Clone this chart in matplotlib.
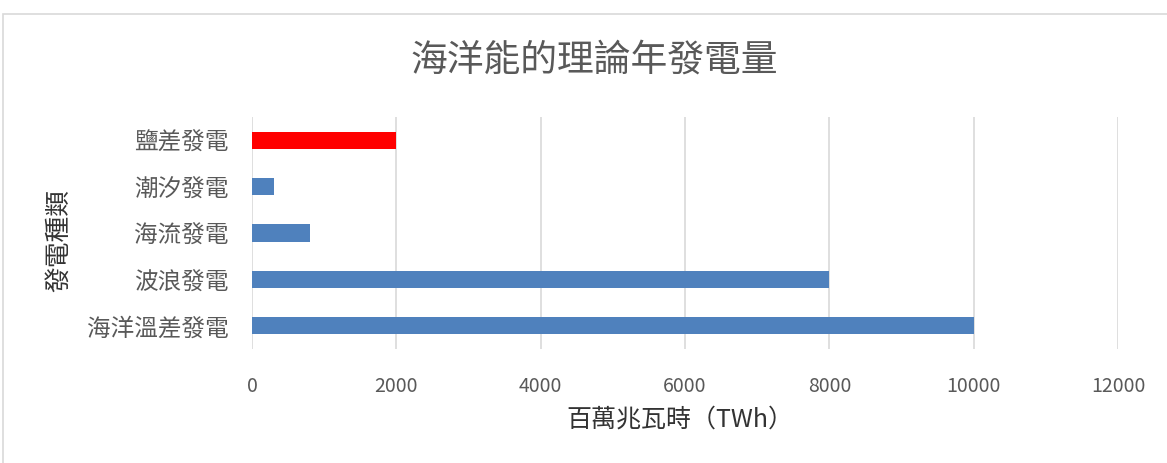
import matplotlib
matplotlib.use("Agg")
import matplotlib.pyplot as plt
from matplotlib.patches import Rectangle

# data (bottom to top)
categories = ["海洋溫差發電", "波浪發電", "海流發電", "潮汐發電", "鹽差發電"]
values = [10000, 8000, 800, 300, 2000]
colors = ["#4f81bd", "#4f81bd", "#4f81bd", "#4f81bd", "#ff0000"]
xticks = [0, 2000, 4000, 6000, 8000, 10000, 12000]

plt.rcParams['font.family'] = ['Noto Sans CJK TC', 'DejaVu Sans']
textcolor = "#595959"
labelcolor = "#333333"

fig = plt.figure(figsize=(11.67, 4.64), dpi=100)
W, H = 1167, 464

# chart area border (light grey, runs off right/bottom edges)
fig.patches.append(Rectangle((3 / W, -0.1), 1.2, 1 - 15 / H + 0.1, transform=fig.transFigure,
                             fill=False, edgecolor="#d9d9d9", linewidth=1.2))

ax = fig.add_axes([252 / W, 1 - 350 / H, (1118 - 252) / W, (350 - 118) / H])
ax.barh(range(len(categories)), values, height=0.37, color=colors, zorder=3)

ax.set_xlim(0, 12000)
ax.set_ylim(-0.5, len(categories) - 0.5)
ax.set_xticks(xticks)
ax.set_xticklabels([str(v) for v in xticks], fontsize=14, color=textcolor)
ax.set_yticks(range(len(categories)))
ax.set_yticklabels(categories, fontsize=17, color=textcolor, fontweight='light')
ax.tick_params(axis='both', length=0)
ax.tick_params(axis='x', pad=19)
ax.tick_params(axis='y', pad=17)
ax.grid(True, axis='x', color="#d9d9d9", linewidth=1.2, zorder=0)
for s in ax.spines.values():
    s.set_visible(False)

fig.text(594 / W, 1 - 60 / H, "海洋能的理論年發電量", fontsize=26.5, color=textcolor,
         ha='center', va='center', fontweight='light')
fig.text(680 / W, 1 - 420 / H, "百萬兆瓦時（TWh）", fontsize=18, color=labelcolor,
         ha='center', va='center', fontweight='light')
fig.text(59 / W, 1 - 240 / H, "發電種類", fontsize=18.5, color=labelcolor, rotation=90,
         ha='center', va='center', fontweight='light')

plt.savefig("out.png", dpi=100)
